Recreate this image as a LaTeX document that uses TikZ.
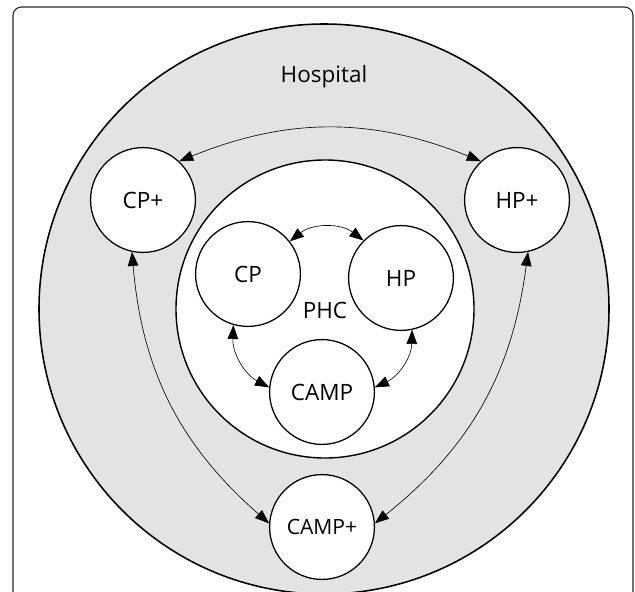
\documentclass[tikz,border=0pt]{standalone}
\usepackage{fontspec}
\setmainfont{Open Sans}
\usetikzlibrary{arrows.meta,positioning}

\begin{document}
\begin{tikzpicture}[x=0.025cm,y=-0.025cm,
        unit/.style={circle,draw,line width=0.9pt,fill=white,minimum size=2.62cm,inner sep=0pt,font=\fontsize{16}{19}\selectfont},
        link/.style={{Triangle[length=10pt,width=7.5pt]}-{Triangle[length=10pt,width=7.5pt]},line width=0.45pt}]
        \useasboundingbox (0,0) rectangle (635,591);
        \clip (0,0) rectangle (635,591);
        \draw[line width=0.8pt,black!85,rounded corners=6pt] (13,620) -- (13,7) -- (633,7) -- (633,620);

        %%hospital and phc
        \draw[line width=1.1pt,fill=gray!22] (324,309) circle (285);
            \node[font=\fontsize{16}{19}\selectfont] (hosp) at (324,77){Hospital};
        \draw[line width=1pt,fill=white] (325,309) circle (149);
            \node[font=\fontsize{16}{19}\selectfont] (phc) at (325,310){PHC};

        %%units
        \node[unit] (cpp) at (143,200){CP+};
        \node[unit] (hpp) at (517,200){HP+};
        \node[unit] (cp) at (248,274){CP};
        \node[unit] (hp) at (401,278){HP};
        \node[unit] (camp) at (322,392){CAMP};
        \node[unit,font=\fontsize{15}{18}\selectfont] (campp) at (322,527){CAMP+};

        %%links
        \draw[link] (cpp.47) to[bend left=22] (hpp.133);
        \draw[link] (cp.38) to[bend left=38] (hp.135);
        \draw[link] (cp.-106) to[bend right=32] (camp.175);
        \draw[link] (hp.-78) to[bend left=32] (camp.5);
        \draw[link] (cpp.-102) to[bend right=22] (campp.176);
        \draw[link] (hpp.-78) to[bend left=22] (campp.4);

        \end{tikzpicture}
\end{document}
